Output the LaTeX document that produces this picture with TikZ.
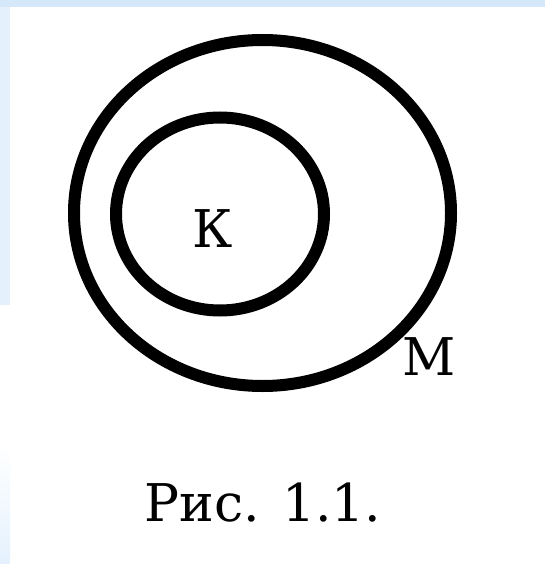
\documentclass[tikz,border=0pt]{standalone}
\usepackage{fontspec}
\setmainfont{DejaVu Serif}
\usetikzlibrary{positioning}
\definecolor{cBandTop}{RGB}{212,232,250}
\definecolor{cBandSide}{RGB}{228,241,253}
\tikzset{
	ring/.style    ={draw=black, line width=12pt},
	setlabel/.style={font=\fontsize{52}{60}\selectfont, inner sep=0pt},
	figcap/.style  ={font=\fontsize{52}{60}\selectfont, inner sep=0pt},
}
\begin{document}
\begin{tikzpicture}[x=1pt, y=-1pt]
	\useasboundingbox (0,0) rectangle (545,564);
	% slide background
	\fill[cBandTop] (0,0) rectangle (545,7);
	\fill[cBandSide] (0,7) rectangle (10,305);
	\shade[top color=white, bottom color=cBandSide] (0,445) rectangle (10,564);
	% sets M and K
	\draw[ring] (262.5,213) ellipse [x radius=188.5, y radius=173];
	\draw[ring] (220,214) ellipse [x radius=104, y radius=96.5];
	\node[setlabel] (k) at (213,229) {К};
	\node[setlabel] (m) at (429,357) {М};
	\node[figcap] (cap) at (263,503) {Рис. 1.1.};
\end{tikzpicture}
\end{document}
